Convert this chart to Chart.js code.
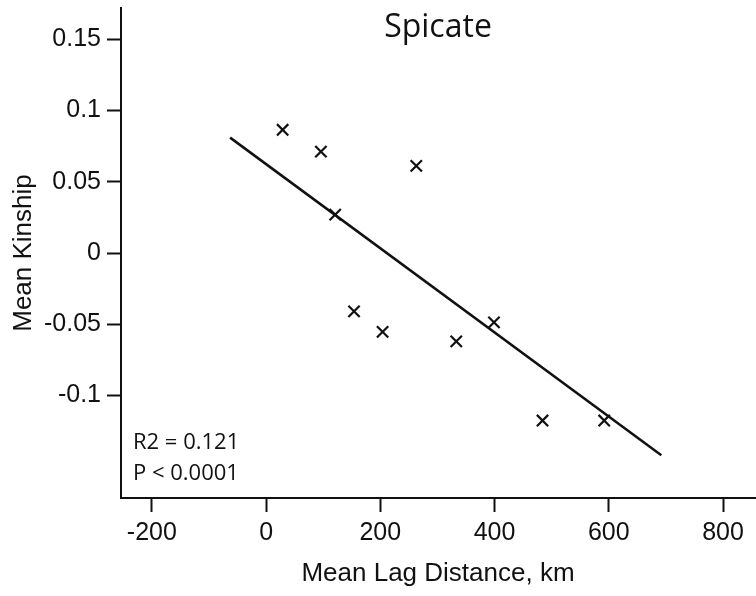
<!DOCTYPE html>
<html>
<head>
<meta charset="utf-8">
<script src="https://cdn.jsdelivr.net/npm/chart.js@4/dist/chart.umd.min.js"></script>
<style>
    html, body { margin: 0; padding: 0; background: #fff; }
    #wrap { width: 756px; height: 596px; }
</style>
</head>
<body>
<div id="wrap"><canvas id="chart"></canvas></div>
<script>
// valeurs
const lagDistance = [29, 96, 121, 154, 204, 263, 333, 399, 484, 592];
const meanKinship = [0.0865, 0.0712, 0.0269, -0.041, -0.0554, 0.0612, -0.062, -0.0487, -0.1176, -0.1176];

// droite de regression (extremites)
const fitX = [-63, 692];
const fitY = [0.081, -0.142];

const xTicks = [-200, 0, 200, 400, 600, 800];
const yTicks = [-0.1, -0.05, 0, 0.05, 0.1, 0.15];
const yTickLabels = ["-0.1", "-0.05", "0", "0.05", "0.1", "0.15"];

const titre = "Spicate";
const xTitre = "Mean Lag Distance, km";
const yTitre = "Mean Kinship";
const statsLignes = ["R2 = 0.121", "P < 0.0001"];

const ink = "#111";

// titre + stats dessines dans la zone du graphique
const textePlugin = {
    id: "texte",
    afterDraw(chart) {
        const { ctx, chartArea } = chart;
        ctx.save();
        ctx.fillStyle = ink;
        ctx.textBaseline = "alphabetic";
        ctx.font = "32px 'Open Sans'";
        ctx.textAlign = "center";
        ctx.fillText(titre, (chartArea.left + chartArea.right) / 2, chartArea.top + 29);
        ctx.font = "22px 'Open Sans'";
        ctx.textAlign = "left";
        ctx.fillText(statsLignes[0], chartArea.left + 12, chartArea.bottom - 49);
        ctx.fillText(statsLignes[1], chartArea.left + 12, chartArea.bottom - 18);
        ctx.restore();
    }
};

const ctx = document.getElementById("chart").getContext("2d");

new Chart(ctx, {
    type: "scatter",
    data: {
        datasets: [
            {
                label: "points",
                data: lagDistance.map((x, i) => ({ x: x, y: meanKinship[i] })),
                pointStyle: "crossRot",
                pointRadius: 8,
                pointBorderWidth: 2.2,
                borderColor: ink,
                backgroundColor: ink
            },
            {
                type: "line",
                label: "fit",
                data: fitX.map((x, i) => ({ x: x, y: fitY[i] })),
                borderColor: ink,
                borderWidth: 2.5,
                pointRadius: 0,
                fill: false
            }
        ]
    },
    options: {
        responsive: true,
        maintainAspectRatio: false,
        animation: false,
        layout: { autoPadding: false, padding: { top: 8, right: 1, left: 0, bottom: 0 } },
        plugins: {
            legend: { display: false },
            tooltip: { enabled: false }
        },
        scales: {
            x: {
                type: "linear",
                min: -254,
                max: 856,
                afterBuildTicks: s => { s.ticks = xTicks.map(v => ({ value: v })); },
                afterFit: s => { s.height = 98; s.paddingLeft = 0; s.paddingRight = 0; },
                border: { display: true, color: ink, width: 2 },
                grid: { drawOnChartArea: false, drawTicks: true, tickLength: 14, tickColor: ink, tickWidth: 2 },
                ticks: {
                    color: ink,
                    font: { family: "'Liberation Sans', Arial", size: 25 },
                    padding: 6,
                    maxRotation: 0
                },
                title: {
                    display: true,
                    text: xTitre,
                    color: ink,
                    font: { family: "'Liberation Sans', Arial", size: 26 },
                    padding: { top: 0, bottom: 7 }
                }
            },
            y: {
                type: "linear",
                min: -0.172,
                max: 0.172,
                afterBuildTicks: s => { s.ticks = yTicks.map(v => ({ value: v })); },
                afterFit: s => { s.width = 121; s.paddingTop = 0; s.paddingBottom = 0; },
                border: { display: true, color: ink, width: 2 },
                grid: { drawOnChartArea: false, drawTicks: true, tickLength: 14, tickColor: ink, tickWidth: 2 },
                ticks: {
                    color: ink,
                    font: { family: "'Liberation Sans', Arial", size: 25 },
                    padding: 6,
                    callback: (v, i) => yTickLabels[i]
                },
                title: {
                    display: true,
                    text: yTitre,
                    color: ink,
                    font: { family: "'Liberation Sans', Arial", size: 26 },
                    padding: { top: 8, bottom: 0 }
                }
            }
        }
    },
    plugins: [textePlugin]
});
</script>
</body>
</html>
